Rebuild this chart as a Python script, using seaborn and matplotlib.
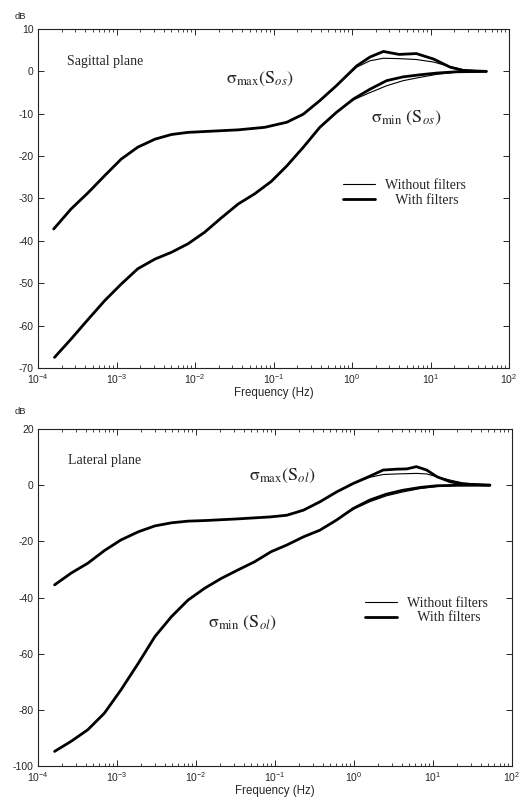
import numpy as np
import pandas as pd
import matplotlib
matplotlib.use("Agg")
import matplotlib.pyplot as plt
import matplotlib.ticker as mticker
from matplotlib.lines import Line2D
import seaborn as sns

# ---------------------------------------------------------------------------
# Data: log10(frequency / Hz) and gain in dB
# ---------------------------------------------------------------------------
SAG_MAX_LOGF = [-3.80, -3.58, -3.36, -3.15, -2.94, -2.73, -2.51, -2.30, -2.09, -1.88,
                -1.45, -1.11, -0.83, -0.62, -0.41, -0.20, 0.06, 0.23, 0.40, 0.60,
                0.82, 1.04, 1.25, 1.42, 1.71]
SAG_MAX_WITH = [-37.2, -32.5, -28.6, -24.6, -20.7, -17.9, -16.0, -14.9, -14.4, -14.2,
                -13.8, -13.2, -12.0, -10.1, -6.9, -3.4, 1.3, 3.4, 4.7, 4.0,
                4.2, 2.9, 1.0, 0.2, 0.0]
SAG_MAX_WITHOUT = [-37.2, -32.5, -28.6, -24.6, -20.7, -17.9, -16.0, -14.9, -14.4, -14.2,
                   -13.8, -13.2, -12.0, -10.1, -6.9, -3.4, 1.0, 2.5, 3.1, 3.0,
                   2.8, 2.2, 1.1, 0.4, 0.0]

SAG_MIN_LOGF = [-3.79, -3.58, -3.36, -3.15, -2.94, -2.73, -2.51, -2.30, -2.09, -1.88,
                -1.66, -1.45, -1.24, -1.03, -0.83, -0.62, -0.41, -0.20, 0.02, 0.23,
                0.44, 0.65, 0.87, 1.08, 1.33, 1.71]
SAG_MIN_WITH = [-67.5, -63.2, -58.5, -54.1, -50.2, -46.6, -44.3, -42.7, -40.7, -38.0,
                -34.5, -31.3, -28.9, -26.0, -22.3, -17.9, -13.2, -9.7, -6.5, -4.2,
                -2.2, -1.3, -0.8, -0.4, -0.1, 0.0]
SAG_MIN_WITHOUT = [-67.5, -63.2, -58.5, -54.1, -50.2, -46.6, -44.3, -42.7, -40.7, -38.0,
                   -34.5, -31.3, -28.9, -26.0, -22.3, -17.9, -13.2, -9.7, -6.7, -5.0,
                   -3.4, -2.2, -1.4, -0.7, -0.2, 0.0]

LAT_MAX_LOGF = [-3.79, -3.58, -3.37, -3.16, -2.95, -2.73, -2.52, -2.31, -2.10, -1.89,
                -1.47, -1.06, -0.85, -0.64, -0.43, -0.22, -0.01, 0.20, 0.37, 0.54,
                0.67, 0.79, 0.92, 1.05, 1.22, 1.38, 1.72]
LAT_MAX_WITH = [-35.5, -31.3, -27.8, -23.3, -19.5, -16.6, -14.5, -13.4, -12.8, -12.6,
                -12.0, -11.3, -10.7, -8.9, -5.9, -2.4, 0.6, 3.2, 5.4, 5.7,
                5.8, 6.6, 5.4, 3.0, 1.2, 0.4, 0.0]
LAT_MAX_WITHOUT = [-35.5, -31.3, -27.8, -23.3, -19.5, -16.6, -14.5, -13.4, -12.8, -12.6,
                   -12.0, -11.3, -10.7, -8.9, -5.9, -2.4, 0.5, 2.8, 3.8, 4.0,
                   4.1, 4.2, 4.0, 3.0, 1.8, 0.8, 0.0]

LAT_MIN_LOGF = [-3.79, -3.58, -3.37, -3.16, -2.95, -2.73, -2.52, -2.31, -2.10, -1.89,
                -1.68, -1.47, -1.26, -1.05, -0.85, -0.64, -0.43, -0.22, -0.01, 0.20,
                0.41, 0.62, 0.84, 1.05, 1.30, 1.72]
LAT_MIN_WITH = [-94.8, -91.2, -87.1, -81.2, -72.9, -63.4, -53.9, -46.8, -40.9, -36.7,
                -33.2, -30.2, -27.3, -23.7, -21.3, -18.4, -16.0, -12.4, -8.3, -5.3,
                -3.2, -1.8, -0.8, -0.2, -0.05, 0.0]
LAT_MIN_WITHOUT = [-94.8, -91.2, -87.1, -81.2, -72.9, -63.4, -53.9, -46.8, -40.9, -36.7,
                   -33.2, -30.2, -27.3, -23.7, -21.3, -18.4, -16.0, -12.4, -8.6, -5.9,
                   -3.8, -2.4, -1.2, -0.5, -0.1, 0.0]

X_TICKS = [1e-4, 1e-3, 1e-2, 1e-1, 1e0, 1e1, 1e2]
SAG_Y_TICKS = [10, 0, -10, -20, -30, -40, -50, -60, -70]
LAT_Y_TICKS = [20, 0, -20, -40, -60, -80, -100]

THICK = 2.0
THIN = 0.8

sns.set_style("ticks")
plt.rcParams.update({
    "font.family": ["Liberation Sans", "DejaVu Sans"],
    "mathtext.fontset": "stix",
    "axes.unicode_minus": False,
    "xtick.direction": "in",
    "ytick.direction": "in",
    "xtick.top": True,
    "ytick.right": True,
    "axes.linewidth": 0.8,
    "axes.edgecolor": "#222222",
})

SERIF = ["Liberation Serif", "DejaVu Serif"]


def _curve(ax, logf, db, lw):
    df = pd.DataFrame({"f": np.power(10.0, logf), "db": db})
    sns.lineplot(data=df, x="f", y="db", ax=ax, color="black", lw=lw,
                 sort=False, estimator=None, solid_joinstyle="round",
                 solid_capstyle="round")


def _style(ax, ylim, yticks, db_y):
    ax.set_xscale("log")
    ax.set_xlim(1e-4, 1e2)
    ax.set_ylim(*ylim)
    ax.set_xticks(X_TICKS)
    ax.xaxis.set_minor_locator(mticker.LogLocator(base=10, subs=np.arange(2, 10)))
    ax.xaxis.set_minor_formatter(mticker.NullFormatter())
    ax.set_yticks(yticks)
    ax.tick_params(axis="both", which="major", labelsize=7.5, length=4, width=0.7, pad=3)
    ax.tick_params(axis="x", which="minor", length=2, width=0.6, top=True)
    ax.set_xlabel("Frequency (Hz)", fontsize=8.3, labelpad=1)
    ax.set_ylabel("")
    ax.text(-0.05, db_y, "dB", transform=ax.transAxes, fontsize=6.8, ha="left", va="center")
    for side in ["top", "right", "left", "bottom"]:
        ax.spines[side].set_visible(True)


def _legend(ax, anchor):
    handles = [Line2D([], [], color="black", lw=THIN),
               Line2D([], [], color="black", lw=THICK)]
    ax.legend(handles, ["Without filters", "   With filters"], loc="upper left",
              bbox_to_anchor=anchor, frameon=False, handlelength=2.3,
              handletextpad=0.7, labelspacing=0.1, borderpad=0,
              prop={"family": SERIF, "size": 10})


fig = plt.figure(figsize=(5.30, 8.01), dpi=100)
ax1 = fig.add_axes([0.0717, 0.5406, 0.8887, 0.4232])
ax2 = fig.add_axes([0.0717, 0.0437, 0.8943, 0.4207])

# ---------------------------------------------------------------------------
# Sagittal plane
# ---------------------------------------------------------------------------
_curve(ax1, SAG_MAX_LOGF, SAG_MAX_WITHOUT, THIN)
_curve(ax1, SAG_MAX_LOGF, SAG_MAX_WITH, THICK)
_curve(ax1, SAG_MIN_LOGF, SAG_MIN_WITHOUT, THIN)
_curve(ax1, SAG_MIN_LOGF, SAG_MIN_WITH, THICK)
_style(ax1, (-70, 10), SAG_Y_TICKS, 1.036)
ax1.text(0.062, 0.903, "Sagittal plane", transform=ax1.transAxes,
         family=SERIF, fontsize=10, va="center")
ax1.text(0.40, 0.853, r"$\mathrm{\sigma}_{\mathrm{max}}(\mathrm{S}_{os})$",
         transform=ax1.transAxes, fontsize=13, va="center")
ax1.text(0.707, 0.737, r"$\mathrm{\sigma}_{\mathrm{min}}\ (\mathrm{S}_{os})$",
         transform=ax1.transAxes, fontsize=13, va="center")
_legend(ax1, (0.633, 0.577))

# ---------------------------------------------------------------------------
# Lateral plane
# ---------------------------------------------------------------------------
_curve(ax2, LAT_MAX_LOGF, LAT_MAX_WITHOUT, THIN)
_curve(ax2, LAT_MAX_LOGF, LAT_MAX_WITH, THICK)
_curve(ax2, LAT_MIN_LOGF, LAT_MIN_WITHOUT, THIN)
_curve(ax2, LAT_MIN_LOGF, LAT_MIN_WITH, THICK)
_style(ax2, (-100, 20), LAT_Y_TICKS, 1.053)
ax2.text(0.064, 0.908, "Lateral plane", transform=ax2.transAxes,
         family=SERIF, fontsize=10, va="center")
ax2.text(0.445, 0.862, r"$\mathrm{\sigma}_{\mathrm{max}}(\mathrm{S}_{ol})$",
         transform=ax2.transAxes, fontsize=13, va="center")
ax2.text(0.358, 0.425, r"$\mathrm{\sigma}_{\mathrm{min}}\ (\mathrm{S}_{ol})$",
         transform=ax2.transAxes, fontsize=13, va="center")
_legend(ax2, (0.675, 0.522))

fig.savefig("out.png", dpi=100)
